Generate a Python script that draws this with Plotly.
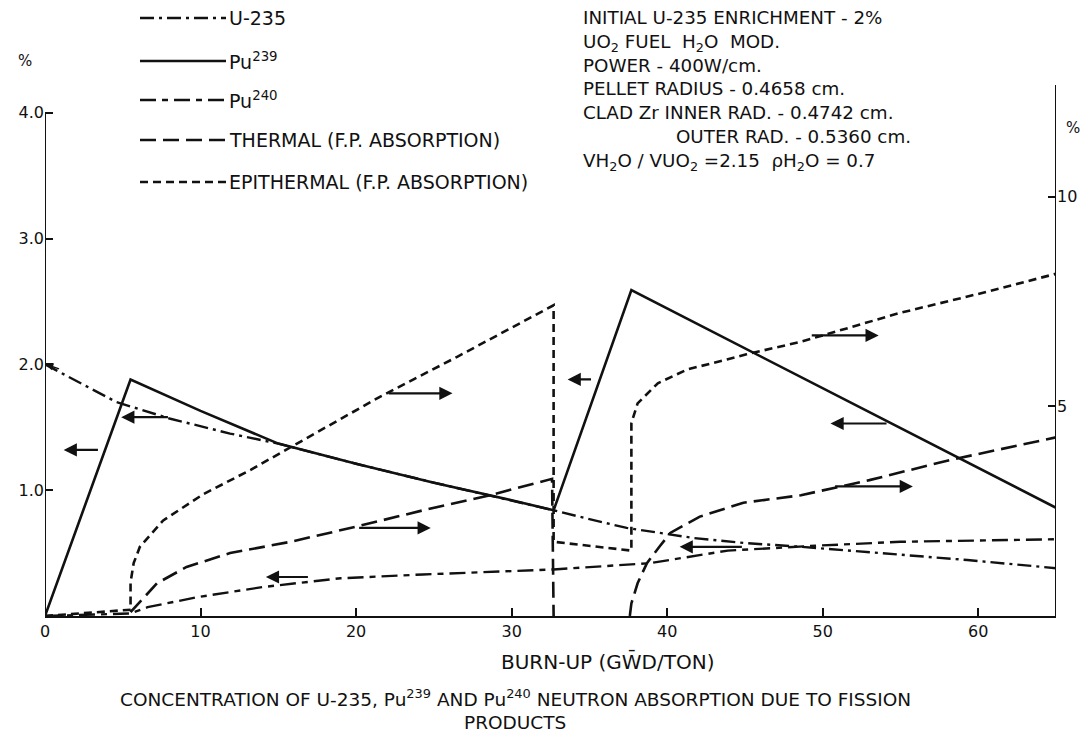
import plotly.graph_objects as go

# ---- data (burn-up in GWD/TON) ----
# left-axis (%) series
u235_x = [0, 2, 4.6, 8, 11.9, 15, 20, 25, 30, 32.7, 35, 37.4, 41.7, 45, 48.6, 55, 59.3, 65]
u235_y = [2.0, 1.87, 1.70, 1.57, 1.45, 1.37, 1.21, 1.06, 0.92, 0.84, 0.77, 0.70, 0.62, 0.58, 0.55, 0.485, 0.445, 0.38]

pu239_x = [0, 5.5, 10, 15, 20, 25, 30, 32.7, 37.7, 65]
pu239_y = [0, 1.88, 1.63, 1.37, 1.21, 1.06, 0.92, 0.84, 2.59, 0.86]

pu240_x = [0, 5.5, 6.6, 9.8, 14, 17, 19, 24.3, 32.7, 38.9, 43.9, 49.8, 55, 65]
pu240_y = [0, 0.02, 0.07, 0.15, 0.23, 0.27, 0.30, 0.33, 0.37, 0.42, 0.52, 0.56, 0.59, 0.61]

# right-axis (%) series: neutron absorption due to fission products
thermal_x = [5.5, 7.2, 9.1, 11.9, 15.8, 20, 24.3, 28.6, 32.6, 32.7, None, 37.6, 37.7, 38.1, 38.7,
             39.5, 40.2, 42.1, 44.9, 48.6, 53, 58.2, 65]
thermal_y = [0.09, 0.78, 1.17, 1.5, 1.77, 2.13, 2.52, 2.88, 3.27, 0, None, 0, 0.3, 0.78, 1.26,
             1.65, 1.98, 2.37, 2.7, 2.88, 3.24, 3.72, 4.26]

epi_x = [0, 5.5, 5.5, 5.7, 6.1, 7.6, 10.2, 13.2, 16.2, 21.5, 26.5, 32.6, 32.7, 32.7, 37.7,
         37.7, 38.1, 39.4, 41.3, 43.9, 45.1, 48.6, 55, 60, 65]
epi_y = [0, 0.15, 0.8, 1.26, 1.65, 2.28, 2.91, 3.48, 4.11, 5.22, 6.18, 7.41, 7.41, 1.77, 1.56,
         4.6, 5.07, 5.55, 5.88, 6.12, 6.24, 6.54, 7.23, 7.68, 8.16]

# tick labels
x_ticks = [0, 10, 20, 30, 40, 50, 60]
y_ticks = [1, 2, 3, 4]
y_ticktext = ["1.0", "2.0", "3.0", "4.0"]
y2_ticks = [5, 10]

# legend entries
legend_labels = ["U-235", "Pu<sup>239</sup>", "Pu<sup>240</sup>",
                 "THERMAL (F.P. ABSORPTION)", "EPITHERMAL (F.P. ABSORPTION)"]

info_lines = ["INITIAL U-235 ENRICHMENT - 2%",
              "UO<sub>2</sub> FUEL  H<sub>2</sub>O  MOD.",
              "POWER - 400W/cm.",
              "PELLET RADIUS - 0.4658 cm.",
              "CLAD Zr INNER RAD. - 0.4742 cm.",
              "\u00a0" * 16 + "OUTER RAD. - 0.5360 cm.",
              "VH<sub>2</sub>O / VUO<sub>2</sub> =2.15  ρH<sub>2</sub>O = 0.7"]

caption_lines = ["CONCENTRATION OF U-235, Pu<sup>239</sup> AND Pu<sup>240</sup> NEUTRON ABSORPTION DUE TO FISSION",
                 "PRODUCTS"]

# arrows (tail x, tail y, head x, head y) in left-axis units
arrows = [(3.5, 1.32, 1.2, 1.32), (8.0, 1.58, 4.9, 1.58), (22.0, 1.77, 26.2, 1.77),
          (20.1, 0.70, 24.8, 0.70), (17.0, 0.31, 14.2, 0.31), (35.2, 1.88, 33.6, 1.88),
          (49.2, 2.23, 53.6, 2.23), (54.2, 1.53, 50.5, 1.53), (50.7, 1.03, 55.8, 1.03),
          (44.9, 0.55, 40.8, 0.55)]

FONT = "DejaVu Sans"
INK = "#111111"

st_u235 = dict(color=INK, width=2.4, dash="14px,5px,3px,5px")
st_pu239 = dict(color=INK, width=2.6)
st_pu240 = dict(color=INK, width=2.4, dash="16px,6px,6px,6px")
st_thermal = dict(color=INK, width=2.6, dash="16px,7px")
st_epi = dict(color=INK, width=2.6, dash="8px,5px")
styles = [st_u235, st_pu239, st_pu240, st_thermal, st_epi]

fig = go.Figure()
fig.add_trace(go.Scatter(x=u235_x, y=u235_y, mode="lines", line=st_u235, name="U-235"))
fig.add_trace(go.Scatter(x=pu239_x, y=pu239_y, mode="lines", line=st_pu239, name="Pu239"))
fig.add_trace(go.Scatter(x=pu240_x, y=pu240_y, mode="lines", line=st_pu240, name="Pu240"))
fig.add_trace(go.Scatter(x=thermal_x, y=thermal_y, mode="lines", line=st_thermal,
                         name="THERMAL", yaxis="y2", connectgaps=False))
fig.add_trace(go.Scatter(x=epi_x, y=epi_y, mode="lines", line=st_epi,
                         name="EPITHERMAL", yaxis="y2"))

# page body has an 8px margin; figure sized/placed so screen pixels match the reference
OFF = 8
W, H = 1080, 727
L, R, T, B = 45 - OFF, 32, 75 - OFF, 119
pw, ph = W - L - R, H - T - B


def px(xp):
    return (xp - OFF - L) / pw


def py(yp):
    return (H - B - (yp - OFF)) / ph


shapes = []
annotations = []


def label(text, x, y, size, xanchor="center", align="center"):
    annotations.append(dict(xref="paper", yref="paper", x=px(x), y=py(y), text=text,
                            showarrow=False, xanchor=xanchor, yanchor="middle",
                            align=align, borderpad=0,
                            font=dict(family=FONT, size=size, color=INK)))


# axis lines (left stops at 4.0, right runs higher)
shapes.append(dict(type="line", xref="x", yref="y", x0=0, x1=0, y0=0, y1=4.0,
                   line=dict(color=INK, width=2)))
shapes.append(dict(type="line", xref="x", yref="y", x0=65, x1=65, y0=0, y1=4.22,
                   line=dict(color=INK, width=2)))

# legend
leg_y = [18, 61, 100, 140, 182]
for lab, st, yy in zip(legend_labels, styles, leg_y):
    shapes.append(dict(type="line", xref="paper", yref="paper", x0=px(140), x1=px(226),
                       y0=py(yy), y1=py(yy), line=st))
    label(lab, 228, yy, 19, "left")

# info block (one multi-line text, line pitch matches the reference)
label("<br>".join(info_lines), 582, 90, 18.3, "left", align="left")

# percent unit labels
label("%", 25, 61, 15)
label("%", 1073, 128, 15)

# axis title and caption
label("BURN-UP (GW\u0304D/TON)", 607, 661, 20)
for txt, yy in zip(caption_lines, [698, 722]):
    label(txt, 515, yy, 18.5)

# curve-to-axis arrows
for tx, ty, hx, hy in arrows:
    annotations.append(dict(xref="x", yref="y", axref="x", ayref="y", x=hx, y=hy,
                            ax=tx, ay=ty, text="", showarrow=True, arrowhead=2,
                            arrowsize=1.2, arrowwidth=2.2, arrowcolor=INK, standoff=0))
# small mark at initial enrichment
annotations.append(dict(xref="x", yref="y", axref="x", ayref="y", x=0.05, y=2.0,
                        ax=1.0, ay=1.96, text="", showarrow=True, arrowhead=2,
                        arrowsize=1.0, arrowwidth=1.5, arrowcolor=INK, standoff=0))

fig.update_layout(
    width=W, height=H,
    margin=dict(l=L, r=R, t=T, b=B, autoexpand=False),
    paper_bgcolor="white", plot_bgcolor="white",
    showlegend=False,
    font=dict(family=FONT, size=15, color=INK),
    xaxis=dict(range=[0, 65], tickvals=x_ticks, ticks="inside", ticklen=8,
               tickwidth=2, tickcolor=INK, showline=True, linecolor=INK, linewidth=2,
               showgrid=False, zeroline=False, automargin=False,
               tickfont=dict(family=FONT, size=16, color=INK)),
    yaxis=dict(range=[0, 4.3], tickvals=y_ticks, ticktext=y_ticktext, ticks="inside",
               ticklen=8, tickwidth=2, tickcolor=INK, showline=False, showgrid=False,
               zeroline=False, automargin=False,
               tickfont=dict(family=FONT, size=16, color=INK)),
    yaxis2=dict(range=[0, 12.9], overlaying="y", side="right", tickvals=y2_ticks,
                ticks="inside", ticklen=8, tickwidth=2, tickcolor=INK, showline=False,
                showgrid=False, zeroline=False, automargin=False,
                tickfont=dict(family=FONT, size=16, color=INK)),
    shapes=shapes,
    annotations=annotations,
)

fig.write_html("out.html")
